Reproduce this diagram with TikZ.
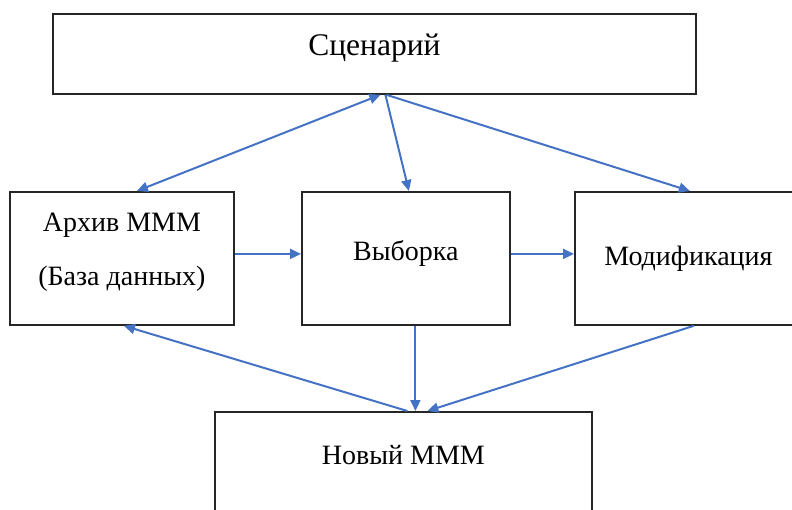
\documentclass[tikz,border=0pt]{standalone}
\usepackage{fontspec}
\setmainfont{Liberation Serif}
\usetikzlibrary{arrows.meta}
\definecolor{linkblue}{HTML}{4472C4}
\begin{document}
\begin{tikzpicture}[x=1pt,y=-1pt,
		box/.style={draw=black!85, line width=1.8pt, anchor=north west, inner sep=0pt, align=center, font=\fontsize{28}{34}\selectfont},
		link/.style={draw=linkblue, line width=2pt},
		>={Triangle[length=11pt,width=10pt]}]
				\useasboundingbox (0,0) rectangle (792,509);
				
				\node[box, minimum width=643pt, minimum height=80pt, font=\fontsize{31.5}{36}\selectfont] (scen) at (52,13) {\raisebox{-1.3pt}[0pt][0pt]{Сценарий}};
				\node[box, minimum width=224pt, minimum height=133pt] (arch) at (9,191) {\raisebox{27.3pt}[0pt][0pt]{\begin{tabular}[t]{@{}c@{}}Архив МММ\\[20pt](База данных)\end{tabular}}};
				\node[box, minimum width=208pt, minimum height=133pt] (vyb) at (301,191) {\raisebox{-1.7pt}[0pt][0pt]{Выборка}};
				\node[box, minimum width=236pt, minimum height=133pt] (mod) at (574,191) {\hspace*{-9pt}\raisebox{-6.7pt}[0pt][0pt]{Модификация}};
				\node[box, minimum width=377pt, minimum height=120pt] (nov) at (214,411) {\raisebox{7.8pt}[0pt][0pt]{Новый МММ}};

				\draw[link, <->] ([xshift=15pt]arch.north) -- ([xshift=6pt]scen.south);
				\draw[link, ->] ([xshift=11pt]scen.south) -- ([xshift=3pt]vyb.north);
				\draw[link, ->] ([xshift=12pt]scen.south) -- ([xshift=-3pt]mod.north);

				\draw[link, ->] ([yshift=4.5pt]arch.east) -- ([yshift=4.5pt]vyb.west);
				\draw[link, ->] ([yshift=4.5pt]vyb.east) -- ([yshift=4.5pt]mod.west);

				\draw[link, ->] ([xshift=9.5pt]vyb.south) -- ([xshift=9.5pt]vyb.south |- nov.north);
				\draw[link, ->] ([xshift=1pt]mod.south) -- ([xshift=24pt]nov.north);
				\draw[link, ->] ([xshift=4pt]nov.north) -- ([xshift=2pt]arch.south);
			\end{tikzpicture}
\end{document}
